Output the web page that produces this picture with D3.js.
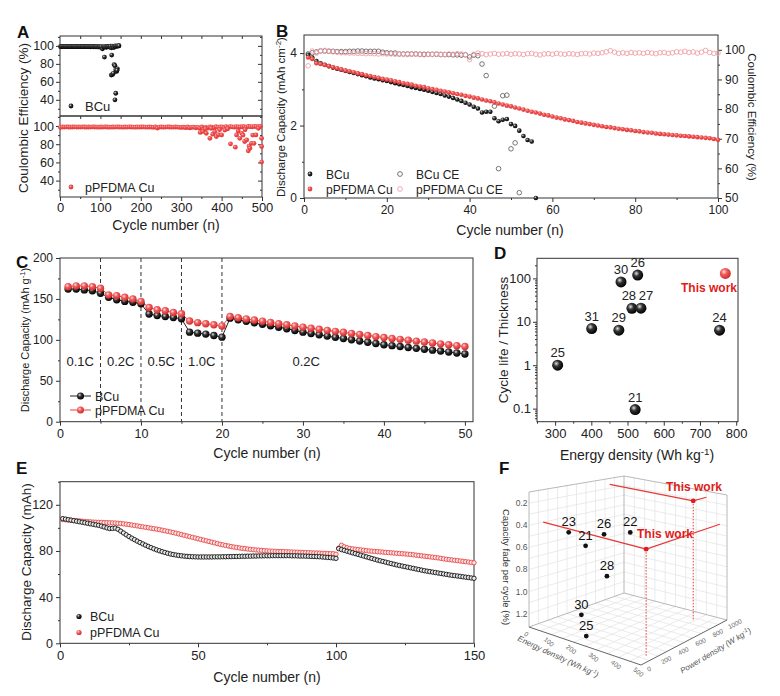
<!DOCTYPE html>
<html><head><meta charset="utf-8">
<script src="https://cdn.jsdelivr.net/npm/d3@7"></script>
<style>body{margin:0;background:#fff}</style>
</head><body>
<script>
// ---------------- DATA ----------------
// Panel A: Coulombic efficiency vs cycle
const aBCuBand = [99.2,99.4,99.3,99.5,99.4,99.3,99.5,99.4,99.2,99.3,
  99.4,99.5,99.3,99.2,99.4,99.3,99.5,99.4,99.3,99.2,
  99.3,99.4,99.2,99.3,99.5,99.3,99.2,99.4,99.3,99.1,
  99.2,99.3,99.4,99.2,99.1,99.3,99.2,99.0,99.2,99.1,
  99.3,99.0,99.1,99.2,98.9,99.1,99.0,98.8,99.2,98.7,
  98.9,99.1,96.8,99.0,98.6,99.2,98.8,98.5,99.3,98.9,
  99.4,98.7,99.6,97.8,99.8,99.5,98.2,99.7,99.9,99.4,
  99.8,100.0,99.9]; // cycles 1,3,5,...,145
const aBCuDips = [[110,87.5],[128,89.8],[127,67.5],[130,68.2],[132,69.5],[134,79.2],[136,78.0],[138,73.5],[140,71.6],[142,74.5],[141,72.8],[138,47.3],[136,40.0],[146,100.2]];
const aPfBand = [98.6,98.9,98.8,99.0,98.9,98.7,98.9,99.0,98.8,98.9,
  98.8,99.0,98.9,98.7,98.9,98.8,99.0,98.9,98.8,98.7,
  98.9,98.8,99.0,98.9,98.7,98.8,98.9,98.8,99.0,98.9,
  98.8,98.7,98.9,98.8,99.0,98.9,98.8,98.7,98.9,98.8,
  98.9,99.0,98.8,98.7,98.9,98.8,98.6,98.9,97.8,98.8,
  98.9,98.7,98.8,99.0,98.9,98.7,98.8,98.9,98.8,98.6,
  98.4,98.7,98.2,98.9,97.9,98.5,98.8,98.1,98.6,97.6,
  98.9,96.3,98.4,97.7,99.1,98.8,97.5,99.2,98.6,98.9,
  99.1,98.3,99.3,98.8,99.4,99.0,98.7,99.3,99.1,98.9,
  99.2,99.4,98.6,99.5,99.3,99.1,99.6,99.4,99.2,99.5]; // cycles 1,6,11,...,496
const aPfDips = [[347,93],[354,94],[360,97],[362,92],[371,86.5],[374,97.5],[378,91],[383,93.8],[387,88.4],[392,90.5],[395,96],[400,90.2],[408,95.6],[415,97],[422,80.4],[434,76.7],[437,90.2],[441,94.5],[445,86.5],[450,92],[453,90],[457,83],[458,96],[462,84.7],[466,72.7],[468,78],[470,75.6],[474,81],[477,90],[480,81],[485,90.2],[491,97.5],[499,86.5],[499,77.5],[499,60.4]];

// Panel B: areal capacity and CE, cycles 1..N
const bCapBCu = [3.95,3.88,3.78,3.72,3.68,3.64,3.60,3.57,3.54,3.51,
  3.48,3.45,3.42,3.39,3.36,3.33,3.30,3.28,3.25,3.23,
  3.20,3.17,3.14,3.12,3.09,3.06,3.04,3.01,2.99,2.96,
  2.93,2.90,2.87,2.83,2.80,2.76,2.72,2.68,2.63,2.58,
  2.52,2.47,2.36,2.38,2.38,2.20,2.12,2.16,2.18,2.04,
  1.99,1.86,1.71,1.60,1.56,0.0];
const bCapPf = [3.88,3.84,3.72,3.70,3.67,3.64,3.61,3.58,3.55,3.52,
  3.50,3.47,3.44,3.42,3.39,3.37,3.34,3.32,3.29,3.27,
  3.25,3.22,3.20,3.17,3.15,3.13,3.10,3.08,3.06,3.03,
  3.01,2.99,2.96,2.94,2.92,2.89,2.87,2.85,2.82,2.80,
  2.77,2.75,2.72,2.69,2.67,2.64,2.61,2.58,2.55,2.53,
  2.50,2.47,2.44,2.41,2.38,2.36,2.33,2.30,2.28,2.25,
  2.22,2.20,2.17,2.15,2.13,2.10,2.08,2.06,2.04,2.02,
  2.00,1.98,1.96,1.95,1.93,1.91,1.90,1.88,1.87,1.85,
  1.84,1.82,1.81,1.80,1.78,1.77,1.76,1.75,1.74,1.73,
  1.72,1.71,1.70,1.69,1.68,1.67,1.66,1.65,1.63,1.61];
const bCeBCu = [98.6,99.0,99.3,99.6,99.6,99.5,99.5,99.4,99.4,99.4,
  99.5,99.5,99.6,99.6,99.5,99.5,99.5,99.5,99.2,99.0,
  98.9,98.9,98.6,98.6,98.6,98.6,98.6,98.5,98.5,98.5,
  98.5,98.5,98.4,98.4,98.4,98.3,98.3,98.2,98.3,97.6,
  98.2,98.0,95.2,91.3,null,81.0,59.9,84.5,84.7,66.6,
  68.6,51.8];
const bCePf = [94.6,99.6,98.9,99.7,99.8,99.6,99.3,99.2,99.0,99.0,
  98.9,98.9,98.8,98.8,98.7,98.8,98.7,98.6,98.7,98.6,
  98.6,98.5,98.6,98.5,98.4,98.5,98.6,98.4,98.3,98.5,
  98.4,98.6,98.5,98.4,98.6,98.5,98.7,98.6,98.4,96.7,
  98.5,98.9,98.7,98.4,98.6,98.8,98.5,98.6,98.8,98.5,
  98.7,98.6,98.4,98.7,98.8,98.5,98.3,98.6,98.7,98.5,
  98.8,98.6,98.5,98.7,98.6,98.4,98.7,98.8,98.6,98.9,
  98.8,99.0,99.3,99.7,99.2,98.8,99.0,98.8,99.1,98.9,
  99.0,98.8,99.1,98.9,98.7,99.0,99.1,98.8,99.0,99.3,
  99.2,99.5,99.1,99.3,98.9,99.2,99.8,99.1,98.8,98.9];

// Panel C: rate capability, cycles 1..50
const cBCu = [162,162,161,160,157,152,149,147,146,144,
  131.5,129.8,128.5,127.3,125.7,109.4,108.2,107,105.3,103.3,
  126.5,124.5,122.6,120.8,119,117.2,115.4,113.6,111.5,109.4,
  107.8,106.2,104.6,103.1,101.6,100.1,98.6,97.1,95.6,94,
  92.9,91.8,90.7,89.6,88.5,87.4,86.3,85.2,84,82.8];
const cPf = [165,166,166,165,163,155,154,152,150,147,
  139.5,136.7,135.5,133.4,131.8,123,121,119.6,118.4,117,
  128.5,127,125.6,124.2,122.8,121.3,119.8,118.4,117,115.5,
  114.2,112.9,111.6,110.4,109.2,107.9,106.6,105.3,104,102.8,
  101.7,100.6,99.5,98.4,97.3,96.2,95.1,94,92.9,91.8];
const cRateBounds = [5,10,15,20];
const cRateLabels = [["0.1C",2.5],["0.2C",7.5],["0.5C",12.5],["1.0C",17.5],["0.2C",30.4]];

// Panel D: cycle life / thickness vs energy density
const dRefs = ["25","31","29","21","28","27","30","26","24"];
const dEnergy = [307,401,476,521,512,537,482,528,754];
const dRatio = [1.0,7.0,6.4,0.095,20.4,20.6,83,119,6.4];
const dThis = [770,130];

// Panel E: pouch cell capacity, cycles 1..150
const eBCu = [108.0,107.6,107.1,106.7,106.2,105.8,105.3,104.9,104.4,104.0,
  103.5,103.1,102.6,102.2,101.5,100.8,100.0,99.4,99.6,99.8,
  98.8,97.2,95.6,94.0,92.5,91.1,89.8,88.5,87.3,86.1,
  85.0,83.9,82.9,81.9,81.0,80.2,79.4,78.7,78.0,77.4,
  76.9,76.5,76.1,75.8,75.5,75.3,75.1,75.0,74.9,74.8,
  74.8,74.8,74.8,74.8,74.8,74.9,74.9,74.9,75.0,75.0,
  75.1,75.1,75.2,75.2,75.3,75.4,75.4,75.5,75.5,75.6,
  75.6,75.7,75.7,75.8,75.8,75.8,75.9,75.9,75.9,75.9,
  75.9,75.9,75.9,75.8,75.8,75.7,75.6,75.6,75.5,75.4,
  75.3,75.2,75.1,75.0,74.8,74.6,74.4,74.2,73.9,73.6,
  82.0,81.2,80.5,79.8,79.1,78.4,77.7,77.0,76.3,75.6,
  74.9,74.2,73.5,72.8,72.1,71.5,70.9,70.3,69.7,69.1,
  68.5,67.9,67.4,66.9,66.4,65.9,65.4,64.9,64.4,63.9,
  63.4,62.9,62.5,62.1,61.7,61.3,60.9,60.5,60.1,59.7,
  59.3,58.9,58.6,58.3,58.0,57.6,57.3,57.0,56.6,56.3];
const ePf = [107.2,107.0,106.8,106.6,106.4,106.2,106.0,105.8,105.6,105.4,
  105.2,105.0,104.9,104.8,104.7,104.6,104.5,104.4,104.3,104.2,
  104.0,103.8,103.5,103.2,102.9,102.5,102.1,101.7,101.3,100.9,
  100.5,100.1,99.7,99.3,98.9,98.5,98.0,97.5,97.0,96.5,
  96.0,95.4,94.8,94.2,93.6,93.0,92.4,91.8,91.2,90.6,
  90.0,89.4,88.8,88.2,87.6,87.0,86.4,85.8,85.3,84.8,
  84.3,83.8,83.4,83.0,82.6,82.3,82.0,81.7,81.4,81.1,
  80.9,80.7,80.5,80.3,80.1,79.9,79.8,79.7,79.6,79.5,
  79.4,79.3,79.2,79.1,79.0,78.9,78.8,78.7,78.6,78.5,
  78.4,78.3,78.2,78.1,78.0,77.9,77.8,77.7,77.6,77.2,
  82.5,85.0,83.6,82.8,82.2,81.8,81.5,81.2,80.9,80.6,
  80.3,80.0,79.8,79.6,79.4,79.2,79.0,78.8,78.6,78.4,
  78.2,78.0,77.8,77.6,77.4,77.2,77.0,76.7,76.4,76.1,
  75.8,75.5,75.2,74.9,74.6,74.3,74.0,73.6,73.2,72.8,
  72.5,72.2,71.9,71.6,71.3,71.0,70.7,70.4,70.1,69.8];

// Panel F: 3D comparison (energy density, power density, capacity fade per cycle)
const fRefs = ["23","21","26","22","28","30","25"];
const fEnergy = [136,212,295,413,308,193,215];
const fPower = [100,100,100,100,100,100,100];
const fFade = [0.41,0.49,0.345,0.27,0.705,1.115,1.29];
const fThisEnergy = [465,400];
const fThisPower = [150,850];
const fThisFade = [0.40,0.16];
const fFadeTicks = [0.2,0.4,0.6,0.8,1.0,1.2];
const fEnergyTicks = [0,100,200,300,400,500];
const fPowerTicks = [0,200,400,600,800,1000];

// ---------------- DRAWING ----------------
const FONT = "'Liberation Sans', Arial, Helvetica, sans-serif";
const RED = "#e8403f";
const svg = d3.select("body").append("svg").attr("width",780).attr("height",696).style("display","block");
const defs = svg.append("defs");
function ballGrad(id, c0, c1, c2){
  const g = defs.append("radialGradient").attr("id",id).attr("cx","38%").attr("cy","35%").attr("r","65%");
  g.append("stop").attr("offset","0%").attr("stop-color",c0);
  g.append("stop").attr("offset","40%").attr("stop-color",c1);
  g.append("stop").attr("offset","100%").attr("stop-color",c2);
}
ballGrad("gBlack","#e0e0e0","#333","#000");
ballGrad("gRed","#ffe0e0","#f06060","#d42a2a");
ballGrad("gRedS","#ffb0b0","#ee5050","#e03535");

function ax(gen, tx, ty, fs){
  const a = svg.append("g").attr("transform",`translate(${tx},${ty})`).call(gen);
  a.select(".domain").remove();
  a.selectAll(".tick line").attr("stroke","#333").attr("stroke-width",1);
  a.selectAll(".tick text").attr("font-family",FONT).attr("font-size",fs||12.5).attr("fill","#222");
  return a;
}
function frame(x0,y0,x1,y1){
  svg.append("rect").attr("x",x0).attr("y",y0).attr("width",x1-x0).attr("height",y1-y0)
    .attr("fill","none").attr("stroke","#333").attr("stroke-width",1);
}
function txt(x,y,s,opt){
  opt = opt||{};
  const t = svg.append("text").attr("x",x).attr("y",y).attr("font-family",FONT)
    .attr("font-size",opt.fs||13).attr("fill",opt.fill||"#222")
    .attr("text-anchor",opt.anchor||"start").text(s);
  if(opt.bold) t.attr("font-weight","bold");
  if(opt.rot!=null) t.attr("transform",`rotate(${opt.rot},${x},${y})`);
  return t;
}
function txtSup(x,y,parts,opt){
  opt = opt||{};
  const fs = opt.fs||13;
  const t = svg.append("text").attr("x",x).attr("y",y).attr("font-family",FONT)
    .attr("font-size",fs).attr("fill",opt.fill||"#222").attr("text-anchor",opt.anchor||"middle");
  if(opt.rot!=null) t.attr("transform",`rotate(${opt.rot},${x},${y})`);
  let up=false;
  parts.forEach(p=>{
    const ts = t.append("tspan").text(p[0]);
    if(p[1] && !up){ ts.attr("dy",-fs*0.38).attr("font-size",fs*0.7); up=true; }
    else if(!p[1] && up){ ts.attr("dy",fs*0.38); up=false; }
  });
  return t;
}
function letter(x,y,s){ txt(x,y,s,{fs:17,bold:true,fill:"#111"}); }

// ===== Panel A =====
const xA = d3.scaleLinear([0,500],[60,262]);
const yAt = d3.scaleLinear([22,111],[116,36]);
const yAb = d3.scaleLinear([22,111],[197,116]);
frame(60,36,262,116); frame(60,116,262,197);
[yAt,yAb].forEach(y=>{
  ax(d3.axisLeft(y).tickValues([40,60,80,100]).tickSize(4).tickPadding(2),60,0,12.5);
  ax(d3.axisLeft(y).tickValues([30,50,70,90,110]).tickSize(2).tickFormat(""),60,0);
  ax(d3.axisLeft(y).tickValues([40,60,80,100]).tickSize(4).tickFormat(""),262,0);
  ax(d3.axisLeft(y).tickValues([30,50,70,90,110]).tickSize(2).tickFormat(""),262,0);
});
ax(d3.axisBottom(xA).tickValues([50,100,150,200,250,300,350,400,450]).tickSize(3).tickFormat(""),0,36);
ax(d3.axisBottom(xA).tickValues([50,100,150,200,250,300,350,400,450]).tickSize(3).tickFormat(""),0,116);
ax(d3.axisBottom(xA).tickValues([0,100,200,300,400,500]).tickSize(4).tickPadding(2),0,197,13);
ax(d3.axisBottom(xA).tickValues([50,150,250,350,450]).tickSize(2).tickFormat(""),0,197);
const aB = aBCuBand.map((v,i)=>[1+2*i,v]).concat(aBCuDips);
const aP = aPfBand.map((v,i)=>[1+5*i,v]).concat(aPfDips);
svg.append("g").selectAll("circle").data(aB).join("circle")
  .attr("cx",d=>xA(d[0])).attr("cy",d=>yAt(d[1])).attr("r",2.4).attr("fill","url(#gBlack)");
svg.append("g").selectAll("circle").data(aP).join("circle")
  .attr("cx",d=>xA(d[0])).attr("cy",d=>yAb(d[1])).attr("r",2.4).attr("fill","url(#gRedS)");
svg.append("circle").attr("cx",71).attr("cy",106).attr("r",2.4).attr("fill","url(#gBlack)");
txt(85,111,"BCu",{fs:13});
svg.append("circle").attr("cx",71).attr("cy",187).attr("r",2.4).attr("fill","url(#gRedS)");
txt(85,191.5,"pPFDMA Cu",{fs:12.5});
txt(23,118,"Coulombic Efficiency (%)",{fs:13.5,anchor:"middle",rot:-90}).attr("dy","0.35em");
txt(166,229.5,"Cycle number (n)",{fs:14,anchor:"middle"});
letter(17,38,"A");

// ===== Panel B =====
const xB = d3.scaleLinear([0,100],[304,718]);
const yB = d3.scaleLinear([0,4.5],[198,35]);
const yBr = d3.scaleLinear([50,105],[198,35]);
frame(304,35,718,198);
ax(d3.axisLeft(yB).tickValues([0,2,4]).tickSize(4).tickPadding(3).tickFormat(d3.format("d")),304,0,12);
ax(d3.axisLeft(yB).tickValues([1,3]).tickSize(2).tickFormat(""),304,0);
ax(d3.axisBottom(xB).tickValues([0,20,40,60,80,100]).tickSize(4).tickPadding(3),0,198,12);
ax(d3.axisBottom(xB).tickValues([10,30,50,70,90]).tickSize(2).tickFormat(""),0,198);
ax(d3.axisRight(yBr).tickValues([50,60,70,80,90,100]).tickSize(4).tickPadding(3),718,0,12);
ax(d3.axisRight(yBr).tickValues([55,65,75,85,95]).tickSize(2).tickFormat(""),718,0);
const bCeB = bCeBCu.map((v,i)=>[i+1,v]).filter(d=>d[1]!=null);
const bCeP = bCePf.map((v,i)=>[i+1,v]);
svg.append("g").selectAll("circle").data(bCeB).join("circle")
  .attr("cx",d=>xB(d[0])).attr("cy",d=>yBr(d[1])).attr("r",2.3)
  .attr("fill","none").attr("stroke","#555").attr("stroke-width",0.8);
svg.append("g").selectAll("circle").data(bCeP).join("circle")
  .attr("cx",d=>xB(d[0])).attr("cy",d=>yBr(d[1])).attr("r",2.3)
  .attr("fill","none").attr("stroke","#f0a0a8").attr("stroke-width",0.9);
svg.append("g").selectAll("circle").data(bCapBCu.map((v,i)=>[i+1,v])).join("circle")
  .attr("cx",d=>xB(d[0])).attr("cy",d=>yB(d[1])).attr("r",2.3).attr("fill","url(#gBlack)");
svg.append("g").selectAll("circle").data(bCapPf.map((v,i)=>[i+1,v])).join("circle")
  .attr("cx",d=>xB(d[0])).attr("cy",d=>yB(d[1])).attr("r",2.3).attr("fill","url(#gRedS)");
// legend B
svg.append("circle").attr("cx",310).attr("cy",174).attr("r",2.4).attr("fill","url(#gBlack)");
txt(326,179,"BCu",{fs:12});
svg.append("circle").attr("cx",310).attr("cy",189).attr("r",2.4).attr("fill","url(#gRedS)");
txt(326,194,"pPFDMA Cu",{fs:12});
svg.append("circle").attr("cx",400).attr("cy",174).attr("r",2.4).attr("fill","none").attr("stroke","#555").attr("stroke-width",0.8);
txt(416,179,"BCu CE",{fs:12});
svg.append("circle").attr("cx",400).attr("cy",189).attr("r",2.4).attr("fill","none").attr("stroke","#f0a0a8").attr("stroke-width",0.9);
txt(416,194,"pPFDMA Cu CE",{fs:12});
txtSup(281,117,[["Discharge Capacity (mAh cm"],["-2",true],[")"]],{fs:11.5,rot:-90}).attr("dy","0.35em");
txt(752,117,"Coulombic Efficiency (%)",{fs:11.5,anchor:"middle",rot:90}).attr("dy","0.35em");
txt(510,235,"Cycle number (n)",{fs:14,anchor:"middle"});
letter(276,37,"B");

// ===== Panel C =====
const xC = d3.scaleLinear([0,51],[60,473]);
const yC = d3.scaleLinear([0,200],[421.7,258]);
frame(60,258,473,421.7);
ax(d3.axisLeft(yC).tickValues([0,50,100,150,200]).tickSize(4).tickPadding(3),60,0,12);
ax(d3.axisLeft(yC).tickValues([25,75,125,175]).tickSize(2).tickFormat(""),60,0);
ax(d3.axisBottom(xC).tickValues([0,10,20,30,40,50]).tickSize(4).tickPadding(3),0,421.7,12.5);
ax(d3.axisBottom(xC).tickValues([5,15,25,35,45]).tickSize(2).tickFormat(""),0,421.7);
svg.append("g").selectAll("line").data(cRateBounds).join("line")
  .attr("x1",d=>xC(d)).attr("x2",d=>xC(d)).attr("y1",yC(200)).attr("y2",yC(0))
  .attr("stroke","#333").attr("stroke-width",1).attr("stroke-dasharray","4,3");
cRateLabels.forEach(d=>txt(xC(d[1]),366,d[0],{fs:13,anchor:"middle"}));
const lineC = d3.line().x((d,i)=>xC(i+1)).y(d=>yC(d));
svg.append("path").attr("d",lineC(cBCu)).attr("fill","none").attr("stroke","#222").attr("stroke-width",1);
svg.append("path").attr("d",lineC(cPf)).attr("fill","none").attr("stroke",RED).attr("stroke-width",1);
svg.append("g").selectAll("circle").data(cBCu).join("circle")
  .attr("cx",(d,i)=>xC(i+1)).attr("cy",d=>yC(d)).attr("r",3.7).attr("fill","url(#gBlack)");
svg.append("g").selectAll("circle").data(cPf).join("circle")
  .attr("cx",(d,i)=>xC(i+1)).attr("cy",d=>yC(d)).attr("r",3.7).attr("fill","url(#gRed)");
// legend C
svg.append("line").attr("x1",70).attr("x2",91).attr("y1",396).attr("y2",396).attr("stroke","#222");
svg.append("circle").attr("cx",80.5).attr("cy",396).attr("r",3.5).attr("fill","url(#gBlack)");
txt(95,400.5,"BCu",{fs:12.5});
svg.append("line").attr("x1",70).attr("x2",91).attr("y1",410).attr("y2",410).attr("stroke",RED);
svg.append("circle").attr("cx",80.5).attr("cy",410).attr("r",3.5).attr("fill","url(#gRed)");
txt(95,414.5,"pPFDMA Cu",{fs:12.5});
txtSup(25,340,[["Discharge Capacity (mAh g"],["-1",true],[")"]],{fs:11,rot:-90}).attr("dy","0.35em");
txt(267,458,"Cycle number (n)",{fs:14,anchor:"middle"});
letter(16,268,"C");

// ===== Panel D =====
const xD = d3.scaleLinear([250,805],[537,738]);
const yD = d3.scaleLog([0.05,290],[421.7,258.3]);
frame(537,258.3,738,421.7);
ax(d3.axisBottom(xD).tickValues([300,400,500,600,700,800]).tickSize(4).tickPadding(3),0,421.7,13);
ax(d3.axisBottom(xD).tickValues([250,350,450,550,650,750]).tickSize(2).tickFormat(""),0,421.7);
ax(d3.axisLeft(yD).tickValues([0.1,1,10,100]).tickSize(4).tickPadding(2).tickFormat(d3.format("~g")),537,0,13);
const dMinor = [];
[0.01,0.1,1,10,100].forEach(b=>{for(let k=2;k<=9;k++){const v=b*k; if(v>0.05&&v<290) dMinor.push(v);}});
ax(d3.axisLeft(yD).tickValues(dMinor).tickSize(2).tickFormat(""),537,0);
const dPts = dRefs.map((r,i)=>({r, e:dEnergy[i], y:dRatio[i]}));
svg.append("g").selectAll("circle").data(dPts).join("circle")
  .attr("cx",d=>xD(d.e)).attr("cy",d=>yD(d.y)).attr("r",5.5).attr("fill","url(#gBlack)");
const dLabelShift = {"28":-3,"27":5};
dPts.forEach(d=>txt(xD(d.e)+(dLabelShift[d.r]||0),yD(d.y)-8,d.r,{fs:13,anchor:"middle"}));
svg.append("circle").attr("cx",xD(dThis[0])).attr("cy",yD(dThis[1])).attr("r",5.5).attr("fill","url(#gRed)");
txt(709,292,"This work",{fs:12,bold:true,fill:"#e01b1b",anchor:"middle"});
txt(503,340,"Cycle life / Thickness",{fs:13.5,anchor:"middle",rot:-90}).attr("dy","0.35em");
txtSup(637,460,[["Energy density (Wh kg"],["-1",true],[")"]],{fs:14});
letter(494,259,"D");

// ===== Panel E =====
const xE = d3.scaleLinear([0,150],[60,474]);
const yE = d3.scaleLinear([0,140],[643.3,481.7]);
frame(60,481.7,474,643.3);
ax(d3.axisLeft(yE).tickValues([0,40,80,120]).tickSize(4).tickPadding(3),60,0,12.5);
ax(d3.axisLeft(yE).tickValues([20,60,100,140]).tickSize(2).tickFormat(""),60,0);
ax(d3.axisBottom(xE).tickValues([0,50,100,150]).tickSize(4).tickPadding(3),0,643.3,13);
ax(d3.axisBottom(xE).tickValues([25,75,125]).tickSize(2).tickFormat(""),0,643.3);
svg.append("g").selectAll("circle").data(ePf).join("circle")
  .attr("cx",(d,i)=>xE(i+1)).attr("cy",d=>yE(d)).attr("r",2.2)
  .attr("fill","#fbe3e3").attr("stroke","#e84848").attr("stroke-width",0.9);
svg.append("g").selectAll("circle").data(eBCu).join("circle")
  .attr("cx",(d,i)=>xE(i+1)).attr("cy",d=>yE(d)).attr("r",2.2)
  .attr("fill","#e8e8e8").attr("stroke","#111").attr("stroke-width",0.9);
svg.append("circle").attr("cx",79).attr("cy",616.5).attr("r",2.6).attr("fill","url(#gBlack)");
txt(90,621,"BCu",{fs:12.5});
svg.append("circle").attr("cx",79).attr("cy",632.5).attr("r",2.6).attr("fill","url(#gRed)");
txt(90,637,"pPFDMA Cu",{fs:12.5});
txt(26,562,"Discharge Capacity (mAh)",{fs:13.5,anchor:"middle",rot:-90}).attr("dy","0.35em");
txt(267,682,"Cycle number (n)",{fs:14,anchor:"middle"});
letter(16,474,"E");

// ===== Panel F (3D, perspective-like projection) =====
const FA=[529,627], FB=[641,665], FC=[727,620], FD=[624,593];
const FH=[135,145,125,117];
const uS = d3.scaleLinear([0,500],[0,1]);
const vS = d3.scaleLinear([0,1000],[0,1]);
const tS = d3.scaleLinear([1.32,0.1],[0,1]);
function proj(e,p,f){
  const u=uS(e), v=vS(p), t=tS(f);
  const wA=(1-u)*(1-v), wB=u*(1-v), wC=u*v, wD=(1-u)*v;
  const x=wA*FA[0]+wB*FB[0]+wC*FC[0]+wD*FD[0];
  const y=wA*FA[1]+wB*FB[1]+wC*FC[1]+wD*FD[1];
  const h=wA*FH[0]+wB*FH[1]+wC*FH[2]+wD*FH[3];
  return [x, y-t*h];
}
const F0=1.32, F1=0.1;
const gF = svg.append("g");
function seg(a,b,col,w,dash){
  const l = gF.append("line").attr("x1",a[0]).attr("y1",a[1]).attr("x2",b[0]).attr("y2",b[1])
    .attr("stroke",col).attr("stroke-width",w||0.7);
  if(dash) l.attr("stroke-dasharray",dash);
  return l;
}
const GRID="#e2e2e2";
d3.range(100,1000,100).forEach(p=>seg(proj(0,p,F0),proj(0,p,F1),GRID));
fFadeTicks.concat([0.3,0.5,0.7,0.9,1.1]).forEach(f=>seg(proj(0,0,f),proj(0,1000,f),GRID));
d3.range(50,500,50).forEach(e=>seg(proj(e,1000,F0),proj(e,1000,F1),GRID));
fFadeTicks.concat([0.3,0.5,0.7,0.9,1.1]).forEach(f=>seg(proj(0,1000,f),proj(500,1000,f),GRID));
d3.range(50,500,50).forEach(e=>seg(proj(e,0,F0),proj(e,1000,F0),GRID));
d3.range(100,1000,100).forEach(p=>seg(proj(0,p,F0),proj(500,p,F0),GRID));
const EDG="#b0b0b0";
seg(proj(0,0,F0),proj(0,0,F1),EDG,0.9);
seg(proj(0,1000,F0),proj(0,1000,F1),EDG,0.9);
seg(proj(500,1000,F0),proj(500,1000,F1),EDG,0.9);
seg(proj(0,0,F1),proj(0,1000,F1),EDG,0.9);
seg(proj(0,1000,F1),proj(500,1000,F1),EDG,0.9);
seg(proj(0,0,F0),proj(0,1000,F0),EDG,0.9);
seg(proj(0,1000,F0),proj(500,1000,F0),EDG,0.9);
seg(proj(0,0,F0),proj(500,0,F0),"#555",0.9);
seg(proj(500,0,F0),proj(500,1000,F0),"#555",0.9);
fFadeTicks.forEach(f=>{
  const p=proj(0,0,f);
  txt(p[0]-1.5,p[1]+3,d3.format(".1f")(f),{fs:8.5,anchor:"end",fill:"#555"});
});
const angE = Math.atan2(FB[1]-FA[1],FB[0]-FA[0])*180/Math.PI;
fEnergyTicks.forEach(e=>{
  const p=proj(e,0,F0);
  txt(p[0]-4,p[1]+9,String(e),{fs:6.5,anchor:"middle",fill:"#666",rot:angE+20});
});
const angP = Math.atan2(FC[1]-FB[1],FC[0]-FB[0])*180/Math.PI;
fPowerTicks.forEach(pw=>{
  const p=proj(500,pw,F0);
  txt(p[0]+9,p[1]+6,String(pw),{fs:6.5,anchor:"middle",fill:"#666",rot:angP});
});
txtSup(557,659,[["Energy density (Wh kg"],["-1",true],[")"]],{fs:8,rot:25,fill:"#555"}).attr("font-style","italic");
txtSup(717,653,[["Power density (W kg"],["-1",true],[")"]],{fs:8,rot:-31,fill:"#555"}).attr("font-style","italic");
txt(503,567,"Capacity fade per cycle (%)",{fs:9.5,anchor:"middle",rot:90,fill:"#333"});
fThisEnergy.forEach((e,i)=>{
  const p=fThisPower[i], f=fThisFade[i];
  const pt=proj(e,p,f);
  seg(pt,proj(0,p,f),"#e53935",1.2);
  seg(pt,proj(e,1000,f),"#e53935",1.2);
  seg(pt,proj(e,p,F0),"#e53935",1,"1.5,1.5");
});
fRefs.forEach((r,i)=>{
  const pt=proj(fEnergy[i],fPower[i],fFade[i]);
  gF.append("circle").attr("cx",pt[0]).attr("cy",pt[1]).attr("r",2.4).attr("fill","#111");
  txt(pt[0],pt[1]-6,r,{fs:13,anchor:"middle",fill:"#111"});
});
fThisEnergy.forEach((e,i)=>{
  const pt=proj(e,fThisPower[i],fThisFade[i]);
  gF.append("circle").attr("cx",pt[0]).attr("cy",pt[1]).attr("r",2.4).attr("fill","#e01b1b");
});
txt(694,491,"This work",{fs:12,bold:true,fill:"#e01b1b",anchor:"middle"});
txt(665,538,"This work",{fs:12,bold:true,fill:"#e01b1b",anchor:"middle"});
letter(499,474,"F");
</script></body></html>
